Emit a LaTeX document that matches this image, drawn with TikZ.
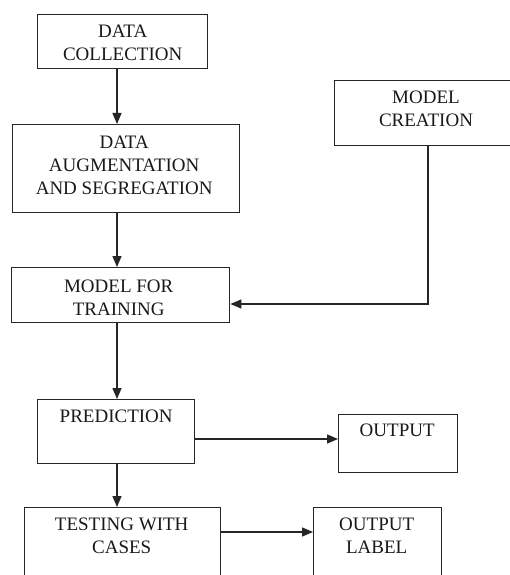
\documentclass[tikz,border=0pt]{standalone}
\usepackage{fontspec}
\setmainfont{Liberation Serif}
\usetikzlibrary{arrows.meta,calc}
\begin{document}
\begin{tikzpicture}[x=1pt,y=-1pt,
  box/.style={draw=black!85,line width=1.4pt,rectangle,inner sep=0pt,anchor=north west},
  txt/.style={anchor=north,inner sep=0pt,align=center,text=black!90,font=\fontsize{19}{23}\selectfont},
  arr/.style={draw=black!85,line width=1.4pt,-{Triangle[length=11pt,width=9pt]}},
  ln/.style={draw=black!85,line width=1.4pt}]
\useasboundingbox (0,0) rectangle (509,575);
\fill[white] (0,0) rectangle (509,575);
% boxes
\node[box,minimum width=170,minimum height=54] (dc) at (37,14) {};
\node[box,minimum width=227,minimum height=88] (da) at (12,124) {};
\node[box,minimum width=186,minimum height=65] (mc) at (334,80) {};
\node[box,minimum width=218,minimum height=55] (mt) at (11,267) {};
\node[box,minimum width=157,minimum height=64] (pr) at (37,399) {};
\node[box,minimum width=119,minimum height=58] (out) at (338,414) {};
\node[box,minimum width=196,minimum height=100] (tc) at (24,507) {};
\node[box,minimum width=128,minimum height=100] (ol) at (313,507) {};
% texts
\node[txt] (tdc) at ($(dc.north)+(0,10.5)$) {DATA\\COLLECTION};
\node[txt] (tda) at ($(da.north)+(-2,11.5)$) {DATA\\AUGMENTATION\\AND SEGREGATION};
\node[txt] (tmc) at (426,90.5) {MODEL\\CREATION};
\node[txt] (tmt) at ($(mt.north)+(-2,12.5)$) {MODEL FOR\\TRAINING};
\node[txt] (tpr) at ($(pr.north)+(0,10.5)$) {PREDICTION};
\node[txt] (tout) at ($(out.north)+(-1,9.5)$) {OUTPUT};
\node[txt] (ttc) at ($(tc.north)+(-1,10.5)$) {TESTING WITH\\CASES};
\node[txt] (tol) at ($(ol.north)+(-1,10.5)$) {OUTPUT\\LABEL};
% connectors
\coordinate (ax) at (117,0);
\coordinate (bx) at (428,0);
\coordinate (yb) at (0,304);
\draw[arr] (dc.south -| ax) -- (da.north -| ax);
\draw[arr] (da.south -| ax) -- (mt.north -| ax);
\draw[arr] (mc.south -| bx) -- (bx |- yb) -- (mt.east |- yb);
\draw[arr] (mt.south -| ax) -- (pr.north -| ax);
\draw[arr] (pr.south -| ax) -- (tc.north -| ax);
\coordinate (y1) at (0,439);
\coordinate (y2) at (0,532);
\draw[arr] (pr.east |- y1) -- (out.west |- y1);
\draw[arr] (tc.east |- y2) -- (ol.west |- y2);
\end{tikzpicture}
\end{document}
